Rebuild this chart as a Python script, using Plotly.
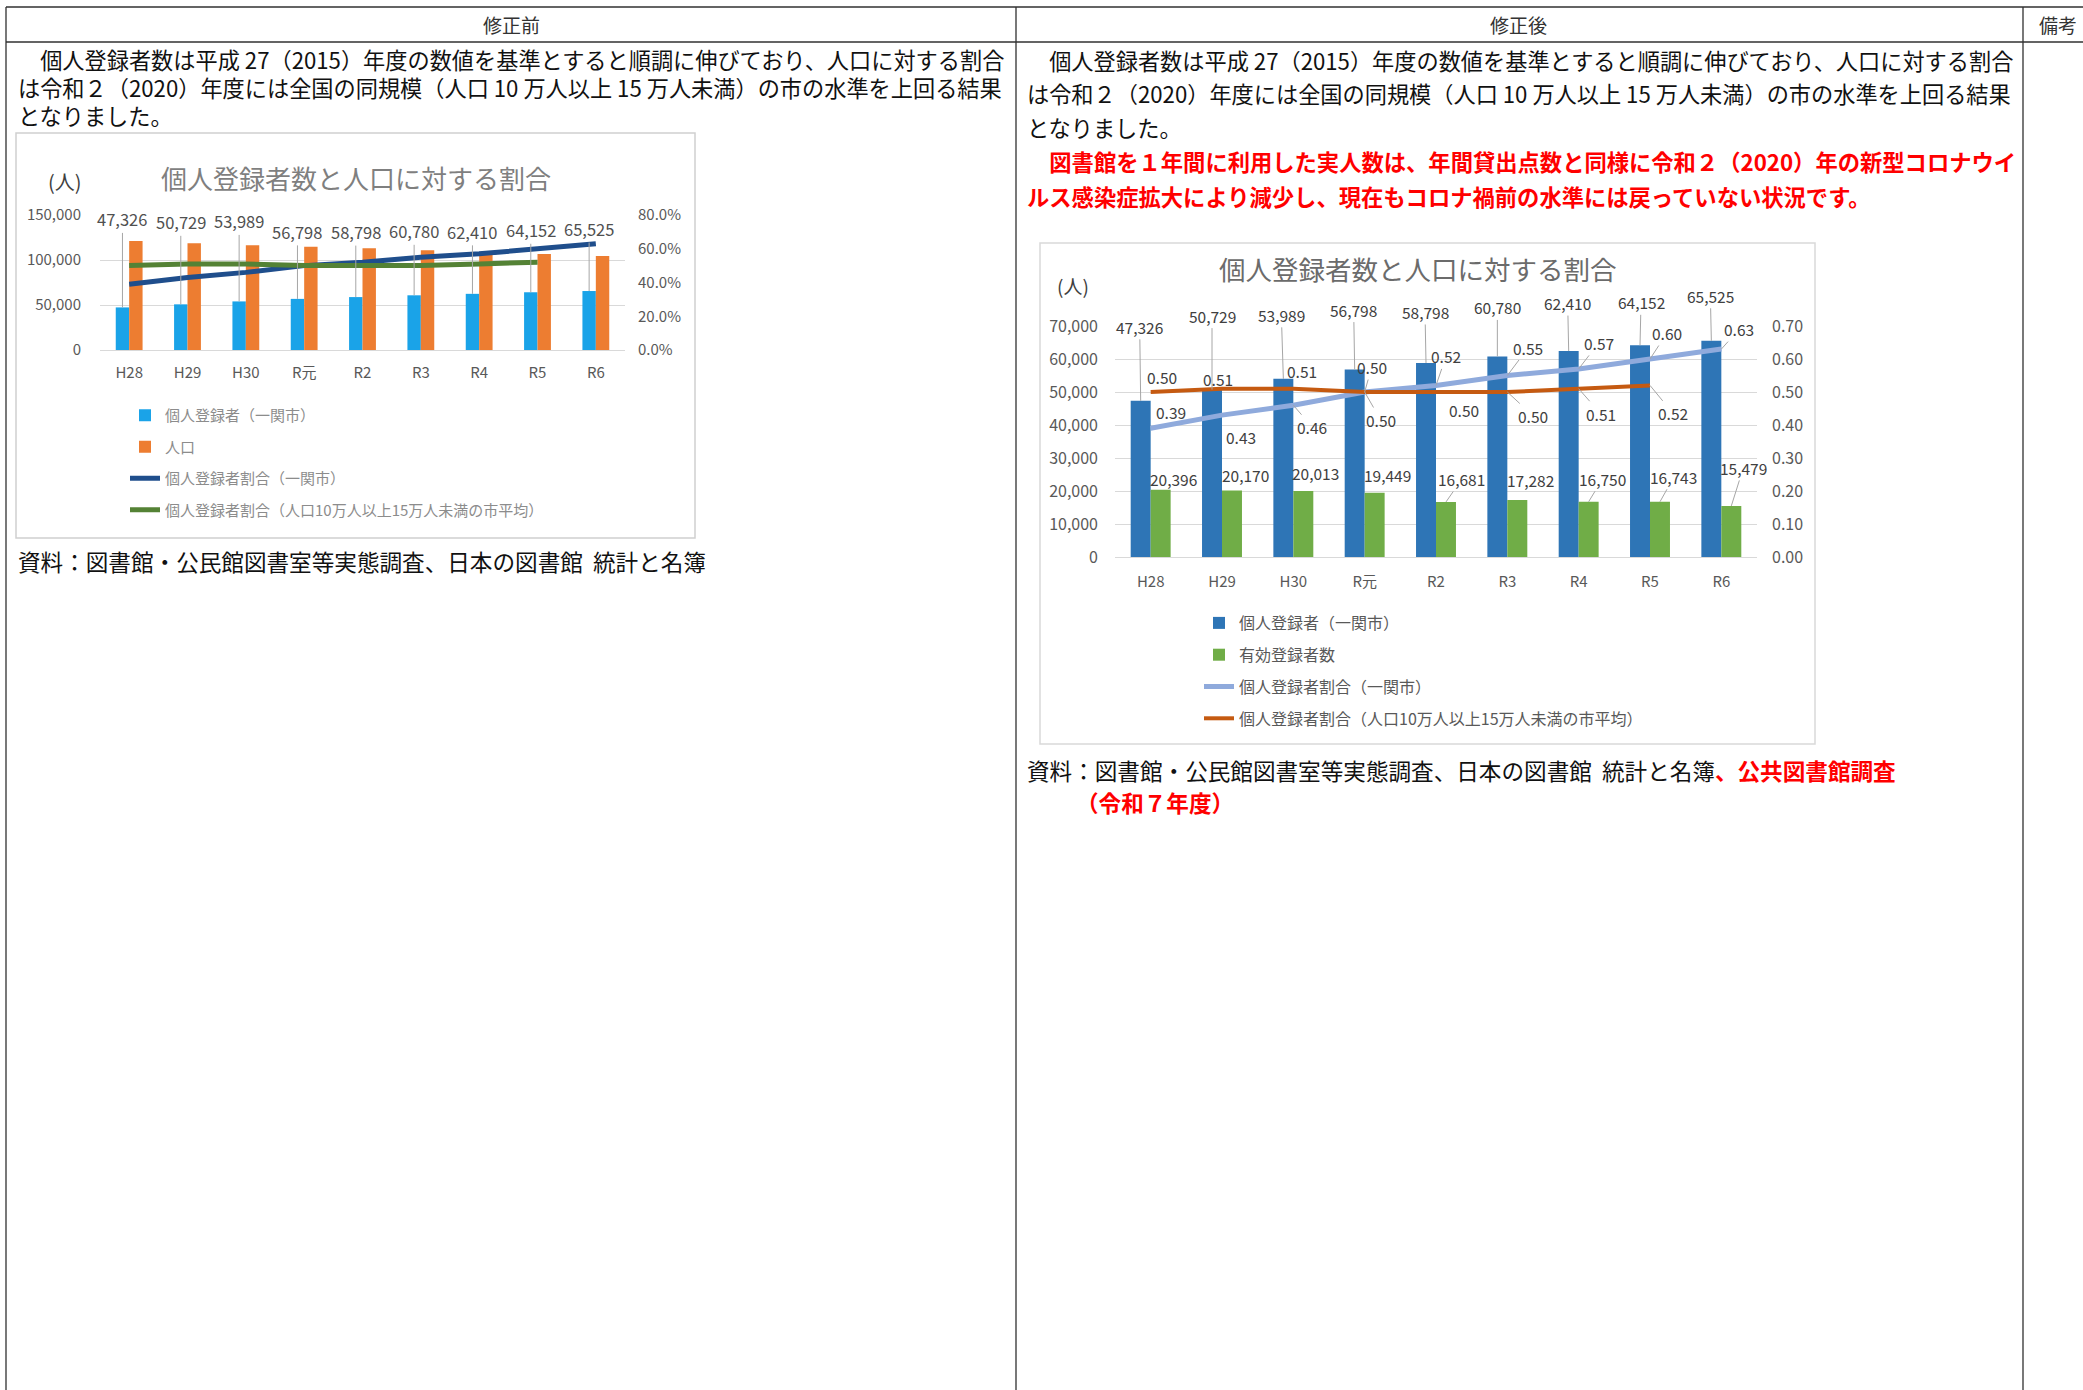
import plotly.graph_objects as go

# ---------------- data ----------------
categories = ["H28", "H29", "H30", "R元", "R2", "R3", "R4", "R5", "R6"]
registrants = [47326, 50729, 53989, 56798, 58798, 60780, 62410, 64152, 65525]
population = [121000, 118500, 116500, 114800, 113000, 110800, 108600, 106700, 104500]
active_registrants = [20396, 20170, 20013, 19449, 16681, 17282, 16750, 16743, 15479]
ratio_city = [0.39, 0.43, 0.46, 0.50, 0.52, 0.55, 0.57, 0.60, 0.63]
ratio_avg = [0.50, 0.51, 0.51, 0.50, 0.50, 0.50, 0.51, 0.52, None]

# ---------------- page geometry helpers ----------------
W, H = 2083, 1390
def px(x):
    return x / W
def py(y):
    return 1 - y / H

FONT = "Noto Sans CJK JP"
xi = list(range(len(categories)))

fig = go.Figure()

# ---------------- left chart (修正前) ----------------
BWL = 0.23
fig.add_trace(go.Bar(x=xi, y=registrants, width=BWL, offset=-BWL, marker=dict(color="#1AA3E8", line_width=0),
                     name="個人登録者（一関市）", xaxis="x", yaxis="y", legend="legend", legendgroup="a1"))
fig.add_trace(go.Bar(x=xi, y=population, width=BWL, offset=0, marker=dict(color="#ED7D31", line_width=0),
                     name="人口", xaxis="x", yaxis="y", legend="legend", legendgroup="a2"))
fig.add_trace(go.Scatter(x=xi, y=ratio_city, mode="lines", line=dict(color="#1F4E8C", width=5),
                         name="個人登録者割合（一関市）", xaxis="x", yaxis="y2", legend="legend", legendgroup="a3"))
fig.add_trace(go.Scatter(x=xi, y=ratio_avg, mode="lines", line=dict(color="#548235", width=5),
                         name="個人登録者割合（人口10万人以上15万人未満の市平均）", xaxis="x", yaxis="y2",
                         legend="legend", legendgroup="a4"))

# ---------------- right chart (修正後) ----------------
BWR = 0.28
fig.add_trace(go.Bar(x=xi, y=registrants, width=BWR, offset=-BWR, marker=dict(color="#2E75B6", line_width=0),
                     name="個人登録者（一関市）", xaxis="x2", yaxis="y3", legend="legend2", legendgroup="b1"))
fig.add_trace(go.Bar(x=xi, y=active_registrants, width=BWR, offset=0, marker=dict(color="#70AD47", line_width=0),
                     name="有効登録者数", xaxis="x2", yaxis="y3", legend="legend2", legendgroup="b2"))
fig.add_trace(go.Scatter(x=xi, y=ratio_city, mode="lines", line=dict(color="#8FAADC", width=5),
                         name="個人登録者割合（一関市）", xaxis="x2", yaxis="y4", legend="legend2", legendgroup="b3"))
fig.add_trace(go.Scatter(x=xi, y=ratio_avg, mode="lines", line=dict(color="#C55A11", width=4),
                         name="個人登録者割合（人口10万人以上15万人未満の市平均）", xaxis="x2", yaxis="y4",
                         legend="legend2", legendgroup="b4"))

GRID = "#d9d9d9"
TICK = dict(family=FONT, size=15, color="#595959")
TICK_R = dict(family=FONT, size=16, color="#595959")

fig.update_layout(
    width=W, height=H, margin=dict(l=0, r=0, t=0, b=0, pad=0, autoexpand=False),
    paper_bgcolor="white", plot_bgcolor="rgba(0,0,0,0)",
    barmode="overlay", font=dict(family=FONT),
    xaxis=dict(domain=[px(100), px(625)], range=[-0.5, 8.5], tickvals=xi, ticktext=categories,
               showgrid=False, zeroline=False, showline=True, linecolor=GRID, tickfont=TICK,
               ticklabelstandoff=9, anchor="y", automargin=False),
    yaxis=dict(domain=[py(350), py(215)], range=[0, 150000], dtick=50000, tickformat=",",
               showgrid=True, gridcolor=GRID, zeroline=False, tickfont=TICK, ticklabelstandoff=18,
               anchor="x", automargin=False),
    yaxis2=dict(overlaying="y", side="right", range=[0, 0.8], dtick=0.2, tickformat=".1%",
                showgrid=False, zeroline=False, tickfont=TICK, ticklabelstandoff=12, anchor="x",
                automargin=False),
    xaxis2=dict(domain=[px(1115), px(1757)], range=[-0.5, 8.5], tickvals=xi, ticktext=categories,
                showgrid=False, zeroline=False, showline=True, linecolor=GRID, tickfont=TICK,
                ticklabelstandoff=11, anchor="y3", automargin=False),
    yaxis3=dict(domain=[py(557), py(326)], range=[0, 70000], dtick=10000, tickformat=",",
                showgrid=True, gridcolor=GRID, zeroline=False, tickfont=TICK_R, ticklabelstandoff=16,
                anchor="x2", automargin=False),
    yaxis4=dict(overlaying="y3", side="right", range=[0, 0.7], dtick=0.1, tickformat=".2f",
                showgrid=False, zeroline=False, tickfont=TICK_R, ticklabelstandoff=14, anchor="x2",
                automargin=False),
    legend=dict(x=px(125), y=py(399), xanchor="left", yanchor="top", tracegroupgap=9,
                font=dict(family=FONT, size=15, color="#8c8c8c"), bgcolor="rgba(0,0,0,0)"),
    legend2=dict(x=px(1199), y=py(606), xanchor="left", yanchor="top", tracegroupgap=8,
                 font=dict(family=FONT, size=16, color="#595959"), bgcolor="rgba(0,0,0,0)"),
)

# ---------------- table frame ----------------
LINE = dict(color="#303030", width=1.3)
shapes = []
def hline(y, x0, x1):
    shapes.append(dict(type="line", xref="paper", yref="paper", x0=px(x0), x1=px(x1), y0=py(y), y1=py(y), line=LINE))
def vline(x, y0, y1):
    shapes.append(dict(type="line", xref="paper", yref="paper", x0=px(x), x1=px(x), y0=py(y0), y1=py(y1), line=LINE))
hline(7, 6, W)
hline(42, 6, W)
vline(6, 7, H)
vline(1016, 7, H)
vline(2023, 7, H)
# chart frames
shapes.append(dict(type="rect", xref="paper", yref="paper", x0=px(16), x1=px(695), y0=py(538), y1=py(133),
                   line=dict(color="#d0d0d0", width=1.5)))
shapes.append(dict(type="rect", xref="paper", yref="paper", x0=px(1040), x1=px(1815), y0=py(744), y1=py(243),
                   line=dict(color="#d9d9d9", width=1.5)))
fig.update_layout(shapes=shapes)

# ---------------- text annotations ----------------
ann = []
def text(x, y, s, size=22.3, color="#111111", anchor="left"):
    ann.append(dict(x=px(x), y=py(y), xref="paper", yref="paper", text=s, showarrow=False,
                    xanchor=anchor, yanchor="middle", font=dict(family=FONT, size=size, color=color)))

text(511, 24, "修正前", 19, "#333333", "center")
text(1518, 24, "修正後", 19, "#333333", "center")
text(2058, 24, "備考", 19, "#333333", "center")

P1 = "　個人登録者数は平成 27（2015）年度の数値を基準とすると順調に伸びており、人口に対する割合"
P2 = "は令和２（2020）年度には全国の同規模（人口 10 万人以上 15 万人未満）の市の水準を上回る結果"
P3 = "となりました。"
for y, s in zip([59, 87, 115], [P1, P2, P3]):
    text(16, y, s, 22.2)
for y, s in zip([60, 93, 127], [P1, P2, P3]):
    text(1025, y, s, 22.2)
R1 = "<b>　図書館を１年間に利用した実人数は、年間貸出点数と同様に令和２（2020）年の新型コロナウイ</b>"
R2 = "<b>ルス感染症拡大により減少し、現在もコロナ禍前の水準には戻っていない状況です。</b>"
text(1025, 161, R1, color="#FF0000")
text(1025, 196, R2, color="#FF0000")

SRC = "資料：図書館・公民館図書室等実態調査、日本の図書館  統計と名簿"
text(16, 561, SRC, 22.6)
text(1025, 770, SRC + "<span style='color:#FF0000'><b>、公共図書館調査</b></span>", 22.6)
text(1074, 802, "<b>（令和７年度）</b>", 22.6, "#FF0000")

# chart titles
text(356, 177, "個人登録者数と人口に対する割合", 26, "#7f7f7f", "center")
text(65, 182, "(人)", 20, "#404040", "center")
text(1418, 268, "個人登録者数と人口に対する割合", 26.5, "#6b6b6b", "center")
text(1073, 285, "(人)", 19, "#404040", "center")

# ---------------- data labels ----------------
LEAD = "#a6a6a6"
def dlabel(xa, ya, x, y, s, dx, dy, lead, size=15.5, color="#404040"):
    ann.append(dict(x=x, y=y, xref=xa, yref=ya, text=s, showarrow=True, ax=dx, ay=dy,
                    arrowhead=0, arrowwidth=1, standoff=0, startstandoff=0,
                    arrowcolor=LEAD if lead else "rgba(0,0,0,0)",
                    font=dict(family=FONT, size=size, color=color)))

# left chart: registrant labels with vertical leaders
L_DY = [-88, -82, -80, -67, -65, -64, -62, -62, -62]
for i, v in enumerate(registrants):
    dlabel("x", "y", i - BWL / 2, v, f"{v:,}", 0, L_DY[i], True, 16.5, "#505050")

# right chart
B_DX = [-1, 0, -2, -1, -1, 0, -1, 1, -1]
B_DY = [-74, -74, -64, -60, -51, -49, -48, -43, -45]
for i, v in enumerate(registrants):
    dlabel("x2", "y3", i - BWR / 2, v, f"{v:,}", B_DX[i], B_DY[i], True)

G_DX = [13, 14, 12, 13, 16, 13, 14, 14, 12]
G_DY = [-11, -15, -18, -18, -23, -20, -23, -25, -38]
G_LD = [0, 0, 0, 0, 1, 0, 1, 1, 1]
for i, v in enumerate(active_registrants):
    dlabel("x2", "y3", i + BWR / 2, v, f"{v:,}", G_DX[i], G_DY[i], G_LD[i])

C_DX = [20, 19, 19, 16, 10, 21, 20, 17, 18]
C_DY = [-16, 22, 22, 28, -29, -28, -26, -26, -20]
C_LD = [0, 0, 1, 1, 1, 1, 1, 1, 1]
for i, v in enumerate(ratio_city):
    dlabel("x2", "y4", i, v, f"{v:.2f}", C_DX[i], C_DY[i], C_LD[i])

A_DX = [11, -4, 9, 7, 28, 26, 22, 23]
A_DY = [-15, -10, -18, -25, 18, 24, 25, 28]
A_LD = [0, 0, 0, 1, 0, 1, 1, 1]
for i, v in enumerate(ratio_avg):
    if v is None:
        continue
    dlabel("x2", "y4", i, v, f"{v:.2f}", A_DX[i], A_DY[i], A_LD[i])

fig.update_layout(annotations=ann)

fig.write_html("out.html", config={"displayModeBar": False},
               post_script="document.body.style.margin='0';")
